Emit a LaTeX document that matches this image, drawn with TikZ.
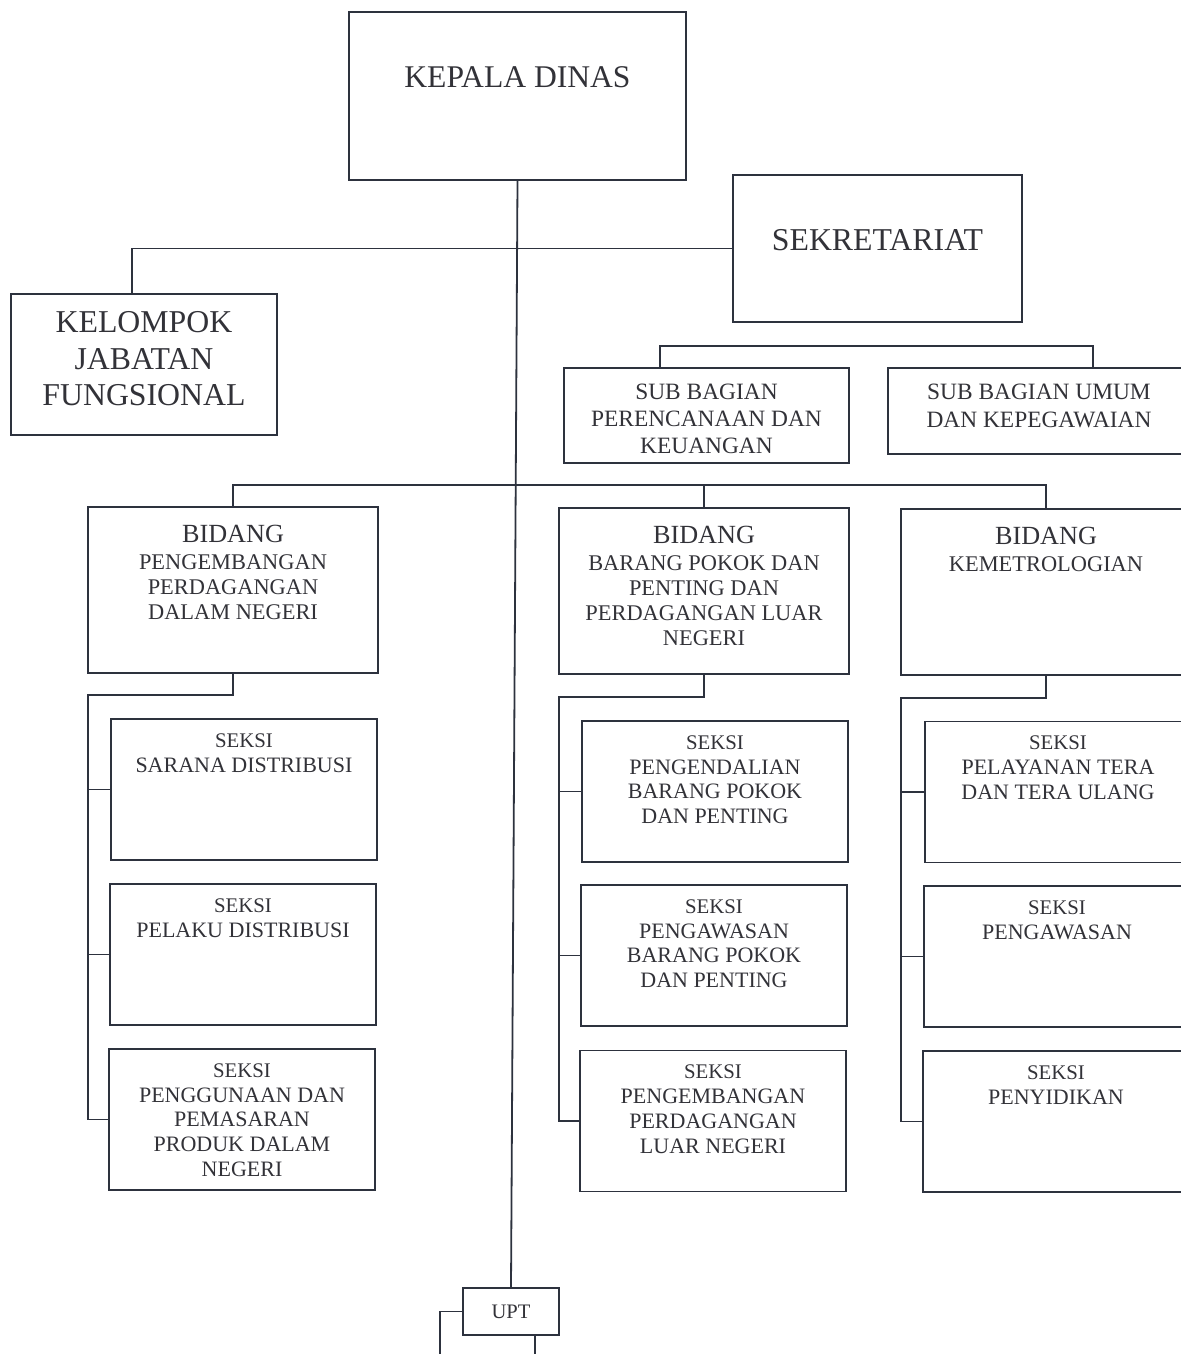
\documentclass[tikz,border=0pt]{standalone}
\usepackage{fontspec}
\setmainfont{Liberation Serif}
\usetikzlibrary{positioning}
\definecolor{linecol}{RGB}{45,50,62}
\definecolor{textcol}{RGB}{50,50,56}
\tikzset{
  box/.style={draw=linecol, line width=0.9pt, inner sep=0pt},
  bidbox/.style={box, minimum width=145pt, minimum height=83pt},
  seksibox/.style={box, minimum width=133pt, minimum height=70.5pt},
  txt/.style={inner sep=0pt, align=center, text=textcol},
  conn/.style={draw=linecol, line width=0.9pt},
}
\newcommand{\bidhead}{{\fontsize{13.1}{13}\selectfont BIDANG}\\[0.6pt]}
\newcommand{\seksihead}{{\fontsize{10.4}{12.4}\selectfont SEKSI}\\}
\begin{document}
\begin{tikzpicture}[x=0.5pt, y=-0.5pt]
\useasboundingbox (0,0) rectangle (1181,1354);
\clip (0,0) rectangle (1181,1354);

% top level
\node[box, minimum width=168.5pt, minimum height=84pt] (kadis) at (517.5,96) {};
\node[txt, font=\fontsize{15.8}{18}\selectfont, below=27.5pt of kadis.north] {KEPALA DINAS};
\node[box, minimum width=144.5pt, minimum height=73.5pt] (sekre) at (877.5,248.5) {};
\node[txt, font=\fontsize{15.9}{18}\selectfont, below=27.5pt of sekre.north] {SEKRETARIAT};
\node[box, minimum width=133pt, minimum height=70.5pt] (jabfung) at (144,364.5) {};
\node[txt, font=\fontsize{15.9}{18.25}\selectfont, below=9pt of jabfung.north] {KELOMPOK\\JABATAN\\FUNGSIONAL};

% sub bagian
\node[box, minimum width=142.5pt, minimum height=47.5pt] (subren) at (706.5,415.5) {};
\node[txt, font=\fontsize{11.7}{13.5}\selectfont, below=8.5pt of subren.north] {SUB BAGIAN\\PERENCANAAN DAN\\KEUANGAN};
\node[box, minimum width=151pt, minimum height=43pt] (subum) at (1039,411) {};
\node[txt, font=\fontsize{11.7}{13.8}\selectfont, below=8.5pt of subum.north] {SUB BAGIAN UMUM\\DAN KEPEGAWAIAN};

% bidang
\foreach \n/\cx/\cy/\t in {bid1/233/590/{PENGEMBANGAN\\PERDAGANGAN\\DALAM NEGERI},
    bid2/704/591/{BARANG POKOK DAN\\PENTING DAN\\PERDAGANGAN LUAR\\NEGERI},
    bid3/1046/592/{KEMETROLOGIAN}} {
  \node[bidbox] (\n) at (\cx,\cy) {};
  \node[txt, font=\fontsize{11.2}{12.5}\selectfont, below=9.5pt of \n.north] {\bidhead\t};
}

% seksi
\foreach \n/\cx/\cy/\t in {s11/244/789.5/{SARANA DISTRIBUSI},
    s12/243/954.5/{PELAKU DISTRIBUSI},
    s13/242/1119.5/{PENGGUNAAN DAN\\PEMASARAN\\PRODUK DALAM\\NEGERI},
    s21/715/791.5/{PENGENDALIAN\\BARANG POKOK\\DAN PENTING},
    s22/714/955.5/{PENGAWASAN\\BARANG POKOK\\DAN PENTING},
    s23/713/1121/{PENGEMBANGAN\\PERDAGANGAN\\LUAR NEGERI},
    s31/1058/792/{PELAYANAN TERA\\DAN TERA ULANG},
    s32/1057/956.5/{PENGAWASAN},
    s33/1056/1121.5/{PENYIDIKAN}} {
  \node[seksibox] (\n) at (\cx,\cy) {};
  \node[txt, font=\fontsize{11}{12.4}\selectfont, below=7.5pt of \n.north] {\seksihead\t};
}

\node[box, minimum width=48pt, minimum height=23.5pt, text=textcol, font=\fontsize{10.3}{12}\selectfont] (upt) at (511,1311.5) {UPT};

% connectors
\draw[conn] (kadis.south) -- (upt.north);
\draw[conn] (sekre.west) -| ([xshift=-6pt]jabfung.north);
\coordinate (brl) at (660,346);
\coordinate (brr) at (1093,346);
\draw[conn] (brl |- subren.north) -- (brl) -- (brr) -- (brr |- subum.north);
\coordinate (bus) at (0,485);
\draw[conn] (bid1.north) |- (bus -| bid3.north) -- (bid3.north);
\draw[conn] (bid2.north) -- (bid2.north |- bus);

\coordinate (sp1) at (88,695);
\coordinate (sp2) at (559,697);
\coordinate (sp3) at (901,698);
\draw[conn] (bid1.south) |- (sp1) |- (s13.west);
\draw[conn] (s11.west -| sp1) -- (s11.west) (s12.west -| sp1) -- (s12.west);
\draw[conn] (bid2.south) |- (sp2) |- (s23.west);
\draw[conn] (s21.west -| sp2) -- (s21.west) (s22.west -| sp2) -- (s22.west);
\draw[conn] (bid3.south) |- (sp3) |- (s33.west);
\draw[conn] (s31.west -| sp3) -- (s31.west) (s32.west -| sp3) -- (s32.west);

\coordinate (uptl) at (440,1360);
\coordinate (uptr) at (535,1360);
\draw[conn] (upt.west) -| (uptl);
\draw[conn] (uptr |- upt.south) -- (uptr);
\end{tikzpicture}
\end{document}
